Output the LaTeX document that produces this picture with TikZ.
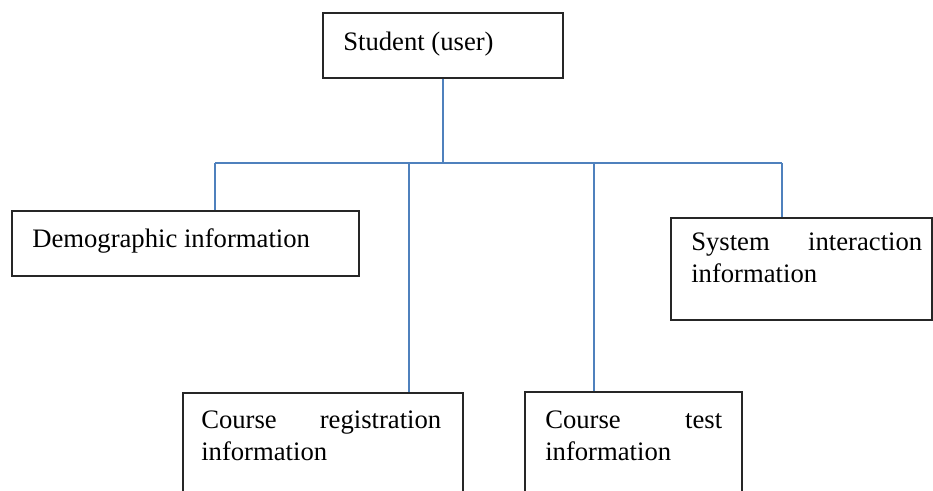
\documentclass[tikz,border=0pt]{standalone}
\usepackage{fontspec}
\setmainfont{Liberation Serif}
\usetikzlibrary{fit}
\definecolor{linkblue}{RGB}{79,129,189}
\begin{document}
\begin{tikzpicture}[x=0.75pt,y=-0.75pt,
  box/.style={draw=black!85,line width=0.9pt,inner sep=0pt},
  txt/.style={font=\fontsize{20}{24.5}\selectfont,inner sep=0pt,anchor=base west,align=left},
  conn/.style={draw=linkblue,line width=1.5pt}]
\useasboundingbox (0,0) rectangle (933,490);
\clip (0,0) rectangle (933,490);
% boxes
\node[box, fit={(323,13) (563,78)}] (student) {};
\node[box, fit={(12,211) (359,276)}] (demo) {};
\node[box, fit={(671,218) (932,320)}] (sys) {};
\node[box, fit={(183,393) (463,520)}] (creg) {};
\node[box, fit={(525,392) (742,520)}] (ctest) {};
% texts
\node[txt] (tstudent) at (343,50) {Student (user)};
\node[txt] (tdemo) at (32,247) {Demographic information};
\node[txt,text width=173.25pt] (tsys) at (691,250) {\hbox to 173.25pt{System\hfil interaction}\\information};
\node[txt,text width=180pt] (treg) at (201,428) {\hbox to 180pt{Course\hfil registration}\\information};
\node[txt,text width=132.75pt] (ttest) at (545,428) {\hbox to 132.75pt{Course\hfil test}\\information};
% connectors
\coordinate (bus) at (443,163);
\coordinate (jdemo) at (215,163);
\coordinate (jreg) at (409,163);
\coordinate (jtest) at (594,163);
\coordinate (jsys) at (782,163);
\draw[conn] (student.south) -- (bus);
\draw[conn] (jdemo) -- (jsys);
\draw[conn] (jdemo) -- (jdemo |- demo.north);
\draw[conn] (jreg) -- (jreg |- creg.north);
\draw[conn] (jtest) -- (jtest |- ctest.north);
\draw[conn] (jsys) -- (jsys |- sys.north);
\end{tikzpicture}
\end{document}
